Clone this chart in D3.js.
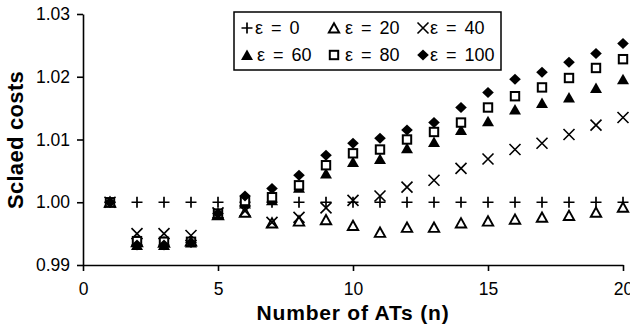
<!DOCTYPE html>
<html><head><meta charset="utf-8">
<script src="https://cdn.jsdelivr.net/npm/d3@7"></script>
<style>
body{margin:0;background:#fff;}
svg{display:block;font-family:"Liberation Sans",Arial,sans-serif;}
</style></head>
<body>
<svg id="chart" width="630" height="325"></svg>
<script>
const nValues = [1,2,3,4,5,6,7,8,9,10,11,12,13,14,15,16,17,18,19,20];
const eps0   = [1.0000,1.0000,1.0000,1.0000,1.0000,1.0000,1.0000,1.0000,1.0000,1.0000,1.0000,1.0000,1.0000,1.0000,1.0000,1.0000,1.0000,1.0000,1.0000,1.0000];
const eps20  = [1.0000,0.9937,0.9936,0.9938,0.9980,0.9984,0.9967,0.9970,0.9972,0.9963,0.9952,0.9960,0.9960,0.9967,0.9970,0.9973,0.9976,0.9979,0.9984,0.9992];
const eps40  = [1.0000,0.9950,0.9950,0.9947,0.9983,0.9986,0.9968,0.9976,0.9991,1.0003,1.0010,1.0024,1.0035,1.0054,1.0069,1.0084,1.0094,1.0108,1.0123,1.0135];
const eps60  = [1.0000,0.9932,0.9932,0.9936,0.9980,0.9998,1.0003,1.0023,1.0046,1.0064,1.0069,1.0086,1.0096,1.0115,1.0129,1.0148,1.0158,1.0167,1.0182,1.0196];
const eps80  = [1.0000,0.9938,0.9937,0.9937,0.9982,1.0002,1.0008,1.0027,1.0059,1.0078,1.0084,1.0100,1.0112,1.0127,1.0151,1.0169,1.0183,1.0198,1.0214,1.0228];
const eps100 = [1.0000,0.9932,0.9932,0.9936,0.9982,1.0010,1.0022,1.0043,1.0075,1.0094,1.0102,1.0115,1.0127,1.0151,1.0175,1.0196,1.0207,1.0223,1.0237,1.0253];
const seriesNames = ["ε = 0","ε = 20","ε = 40","ε = 60","ε = 80","ε = 100"];
const seriesMarkers = ["plus","triOpen","cross","triFill","square","diamond"];
const xTicks = [0,5,10,15,20];
const yTicks = [0.99,1.00,1.01,1.02,1.03];
const xTitle = "Number of ATs (n)";
const yTitle = "Sclaed costs";

const seriesValues = [eps0,eps20,eps40,eps60,eps80,eps100];
const svg = d3.select("#chart");
const x = d3.scaleLinear().domain([0,20]).range([83,623]);
const y = d3.scaleLinear().domain([0.99,1.03]).range([265,14]);

function drawMarker(g, type){
  if(type==="plus"){
    g.append("path").attr("d","M-5.5,0H5.5M0,-5.5V5.5").attr("stroke","#000").attr("stroke-width",1.7).attr("fill","none");
  } else if(type==="cross"){
    g.append("path").attr("d","M-5.5,-5.5L5.5,5.5M-5.5,5.5L5.5,-5.5").attr("stroke","#000").attr("stroke-width",1.6).attr("fill","none");
  } else if(type==="triOpen"){
    g.append("path").attr("d","M0,-4.8L5.2,4.5L-5.2,4.5Z").attr("stroke","#000").attr("stroke-width",1.9).attr("fill","#fff");
  } else if(type==="triFill"){
    g.append("path").attr("d","M0,-5.5L6,5L-6,5Z").attr("fill","#000");
  } else if(type==="square"){
    g.append("rect").attr("x",-4.2).attr("y",-4.2).attr("width",8.4).attr("height",8.4).attr("stroke","#000").attr("stroke-width",2).attr("fill","#fff");
  } else if(type==="diamond"){
    g.append("path").attr("d","M0,-5.5L5.8,0L0,5.5L-5.8,0Z").attr("fill","#000");
  }
}

// axes
const yAxis = d3.axisLeft(y).tickValues(yTicks).tickFormat(d3.format(".2f")).tickSize(6).tickSizeOuter(0).tickPadding(7);
const gy = svg.append("g").attr("transform","translate(83,0)").call(yAxis);
const xAxis = d3.axisBottom(x).tickValues(xTicks).tickFormat(d3.format("d")).tickSize(6).tickSizeOuter(0).tickPadding(12);
const gx = svg.append("g").attr("transform","translate(0,265)").call(xAxis);
[gx,gy].forEach(g=>{
  g.select(".domain").attr("stroke","#000").attr("stroke-width",1.6);
  g.selectAll(".tick line").attr("stroke","#000").attr("stroke-width",1.6);
  g.selectAll(".tick text").attr("fill","#000").style("font-size","17.5px").style("font-family","'Liberation Sans',Arial,sans-serif");
});

// series
seriesValues.forEach((vals,si)=>{
  const g = svg.append("g");
  nValues.forEach((n,i)=>{
    const m = g.append("g").attr("transform",`translate(${x(n)},${y(vals[i])})`);
    drawMarker(m, seriesMarkers[si]);
  });
});

// titles
svg.append("text").attr("x",353).attr("y",320).attr("text-anchor","middle")
  .style("font-size","21px").style("font-weight","bold").style("letter-spacing","0.8px").text(xTitle);
svg.append("text").attr("transform","translate(23,140) rotate(-90)").attr("text-anchor","middle")
  .style("font-size","22px").style("font-weight","bold").style("letter-spacing","0.3px").text(yTitle);

// legend
const lg = svg.append("g");
lg.append("rect").attr("x",234).attr("y",12).attr("width",267).attr("height",58).attr("fill","#fff").attr("stroke","#000").attr("stroke-width",1.5);
const legPos = [[247,28],[334,28],[423,28],[247,55],[334,55],[423,55]];
const legTextX = [255,345,430,257,345,430];
seriesNames.forEach((name,i)=>{
  const [lx,ly] = legPos[i];
  const m = lg.append("g").attr("transform",`translate(${lx},${ly})`);
  drawMarker(m, seriesMarkers[i]);
  lg.append("text").attr("x",legTextX[i]).attr("y",ly+5.5).style("font-size","18px").style("word-spacing","3px").text(name);
});
</script>
</body></html>
